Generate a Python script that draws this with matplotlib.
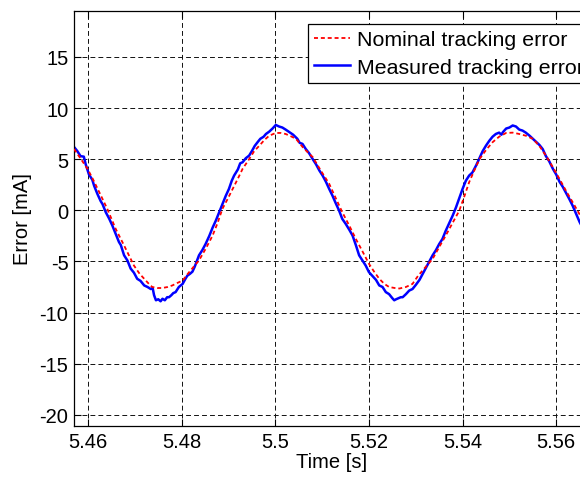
import numpy as np
import matplotlib
matplotlib.use("Agg")
from matplotlib import pyplot as plt

plt.rcParams["font.family"] = ["Liberation Sans", "DejaVu Sans"]
plt.rcParams["axes.unicode_minus"] = False

# nominal tracking error
t_nom = [5.4570, 5.4585, 5.4599, 5.4612, 5.4624, 5.4641, 5.4659, 5.4677, 5.4698, 5.4710,
         5.4720, 5.4730, 5.4737, 5.4748, 5.4759, 5.4770, 5.4780, 5.4791, 5.4802, 5.4815,
         5.4826, 5.4837, 5.4852, 5.4866, 5.4877, 5.4887, 5.4898, 5.4909, 5.4920, 5.4930,
         5.4944, 5.4955, 5.4966, 5.4977, 5.4987, 5.5001, 5.5012, 5.5022, 5.5033, 5.5044,
         5.5060, 5.5080, 5.5097, 5.5115, 5.5129, 5.5143, 5.5158, 5.5172, 5.5186, 5.5200,
         5.5211, 5.5222, 5.5233, 5.5243, 5.5255, 5.5265, 5.5279, 5.5293, 5.5305, 5.5320,
         5.5336, 5.5350, 5.5364, 5.5379, 5.5393, 5.5404, 5.5414, 5.5425, 5.5436, 5.5450,
         5.5464, 5.5478, 5.5493, 5.5507, 5.5521, 5.5535, 5.5550, 5.5564, 5.5578, 5.5593,
         5.5607, 5.5621, 5.5635, 5.5650, 5.5665]
e_nom = [6.0, 5.0, 4.05, 2.9, 1.77, 0.15, -1.81, -3.44, -5.4, -6.2,
         -6.7, -7.2, -7.5, -7.6, -7.6, -7.5, -7.35, -7.1, -6.87, -6.1,
         -5.5, -4.9, -3.7, -2.47, -1.2, 0.15, 1.1, 2.1, 3.1, 4.05,
         5.0, 5.8, 6.33, 6.9, 7.3, 7.57, 7.57, 7.47, 7.25, 7.0,
         6.1, 5.2, 3.9, 2.6, 1.2, -0.18, -1.5, -2.8, -4.0, -5.23,
         -6.0, -6.7, -7.2, -7.5, -7.6, -7.65, -7.5, -7.2, -6.4, -5.6,
         -4.75, -3.6, -2.47, -1.2, -0.03, 1.4, 2.75, 3.9, 5.0, 5.9,
         6.66, 7.2, 7.57, 7.6, 7.47, 7.3, 7.0, 6.3, 5.35, 4.2,
         3.07, 1.9, 0.8, -0.4, -1.5]

# measured tracking error
t_meas = [5.4570, 5.4577, 5.4584, 5.4591, 5.4595, 5.4602, 5.4609, 5.4613, 5.4620, 5.4627,
          5.4631, 5.4638, 5.4645, 5.4652, 5.4659, 5.4666, 5.4670, 5.4677, 5.4684, 5.4691,
          5.4698, 5.4705, 5.4712, 5.4720, 5.4727, 5.4734, 5.4738, 5.4741, 5.4745, 5.4750,
          5.4755, 5.4759, 5.4764, 5.4769, 5.4773, 5.4778, 5.4782, 5.4787, 5.4794, 5.4802,
          5.4808, 5.4812, 5.4818, 5.4823, 5.4828, 5.4832, 5.4837, 5.4844, 5.4851, 5.4859,
          5.4866, 5.4873, 5.4880, 5.4887, 5.4894, 5.4901, 5.4907, 5.4912, 5.4920, 5.4925,
          5.4930, 5.4937, 5.4944, 5.4950, 5.4956, 5.4962, 5.4968, 5.4975, 5.4980, 5.4987,
          5.4994, 5.5001, 5.5008, 5.5015, 5.5022, 5.5030, 5.5038, 5.5047, 5.5052, 5.5058,
          5.5065, 5.5072, 5.5080, 5.5087, 5.5094, 5.5101, 5.5108, 5.5115, 5.5122, 5.5129,
          5.5136, 5.5143, 5.5150, 5.5158, 5.5165, 5.5172, 5.5179, 5.5186, 5.5193, 5.5200,
          5.5207, 5.5215, 5.5222, 5.5229, 5.5236, 5.5243, 5.5250, 5.5254, 5.5258, 5.5263,
          5.5268, 5.5272, 5.5279, 5.5286, 5.5293, 5.5300, 5.5308, 5.5315, 5.5322, 5.5329,
          5.5336, 5.5343, 5.5350, 5.5357, 5.5364, 5.5371, 5.5379, 5.5386, 5.5393, 5.5400,
          5.5407, 5.5414, 5.5421, 5.5429, 5.5436, 5.5443, 5.5450, 5.5457, 5.5464, 5.5471,
          5.5478, 5.5483, 5.5486, 5.5493, 5.5500, 5.5507, 5.5514, 5.5521, 5.5528, 5.5535,
          5.5543, 5.5550, 5.5557, 5.5564, 5.5571, 5.5578, 5.5585, 5.5593, 5.5600, 5.5607,
          5.5614, 5.5621, 5.5628, 5.5635, 5.5642, 5.5650, 5.5660]
e_meas = [6.2, 5.8, 5.3, 5.25, 4.5, 3.5, 3.0, 2.4, 1.6, 0.9,
          0.6, -0.2, -0.8, -1.5, -2.3, -3.1, -3.4, -4.4, -4.9, -5.7,
          -6.1, -6.7, -6.9, -7.35, -7.5, -7.7, -7.6, -8.3, -8.8, -8.7,
          -8.9, -8.65, -8.8, -8.5, -8.5, -8.3, -8.1, -8.0, -7.5, -7.2,
          -6.7, -6.4, -6.2, -6.0, -5.5, -5.0, -4.4, -3.9, -3.3, -2.5,
          -1.7, -1.0, -0.2, 0.6, 1.4, 2.1, 2.9, 3.4, 4.0, 4.6,
          4.7, 5.1, 5.35, 5.8, 6.3, 6.66, 7.0, 7.2, 7.47, 7.7,
          8.0, 8.35, 8.2, 8.1, 7.9, 7.65, 7.4, 7.0, 6.6, 6.5,
          6.0, 5.6, 5.0, 4.5, 3.9, 3.4, 2.8, 2.1, 1.44, 0.7,
          0.0, -0.84, -1.3, -1.9, -2.47, -3.4, -4.4, -4.9, -5.4, -6.05,
          -6.4, -6.8, -7.35, -7.5, -8.0, -8.2, -8.6, -8.8, -8.7, -8.6,
          -8.5, -8.5, -8.2, -7.85, -7.7, -7.3, -6.8, -6.2, -5.6, -5.0,
          -4.4, -3.9, -3.3, -2.8, -2.0, -1.3, -0.5, 0.3, 1.2, 2.1,
          2.9, 3.4, 3.7, 4.4, 5.1, 5.8, 6.33, 6.8, 7.2, 7.47,
          7.6, 7.4, 7.64, 8.0, 8.1, 8.3, 8.2, 7.9, 7.8, 7.6,
          7.3, 7.0, 6.7, 6.4, 6.0, 5.3, 4.8, 4.05, 3.5, 2.8,
          2.3, 1.7, 1.1, 0.46, -0.3, -1.15, -2.0]

xticks = [5.46, 5.48, 5.50, 5.52, 5.54, 5.56]
xticklabels = ["5.46", "5.48", "5.5", "5.52", "5.54", "5.56"]
yticks = [-20, -15, -10, -5, 0, 5, 10, 15]

fig = plt.figure(figsize=(5.8, 4.81), dpi=100)
ax = fig.add_axes([74 / 580, 54 / 481, 515 / 580, 415 / 481])

ax.plot(t_nom, e_nom, color="#ff0000", lw=1.3, linestyle=(0, (2.2, 1.6)),
        label="Nominal tracking error", zorder=3)
ax.plot(t_meas, e_meas, color="#0000ff", lw=1.8, label="Measured tracking error", zorder=2)

ax.set_xlim(5.457, 5.567)
ax.set_ylim(-21.1, 19.5)
ax.set_xticks(xticks)
ax.set_xticklabels(xticklabels)
ax.set_yticks(yticks)
ax.tick_params(direction="in", length=5, width=0.8, labelsize=14.5, top=True, right=False, pad=4)
for s in ax.spines.values():
    s.set_linewidth(0.9)
ax.grid(True, color="#111111", lw=0.7, linestyle=(0, (5, 3.2)))

ax.set_xlabel("Time [s]", fontsize=14.5, labelpad=1)
ax.set_ylabel("Error [mA]", fontsize=14.5, labelpad=5.5)

leg = ax.legend(loc="upper left", bbox_to_anchor=(308 / 580, 1 - 25 / 481),
                bbox_transform=fig.transFigure, borderaxespad=0, fontsize=15.4,
                fancybox=False, framealpha=1, edgecolor="black", handlelength=1.65,
                handletextpad=0.35, labelspacing=0.4, borderpad=0.3)
leg.get_frame().set_linewidth(0.9)

fig.savefig("out.png", dpi=100)
